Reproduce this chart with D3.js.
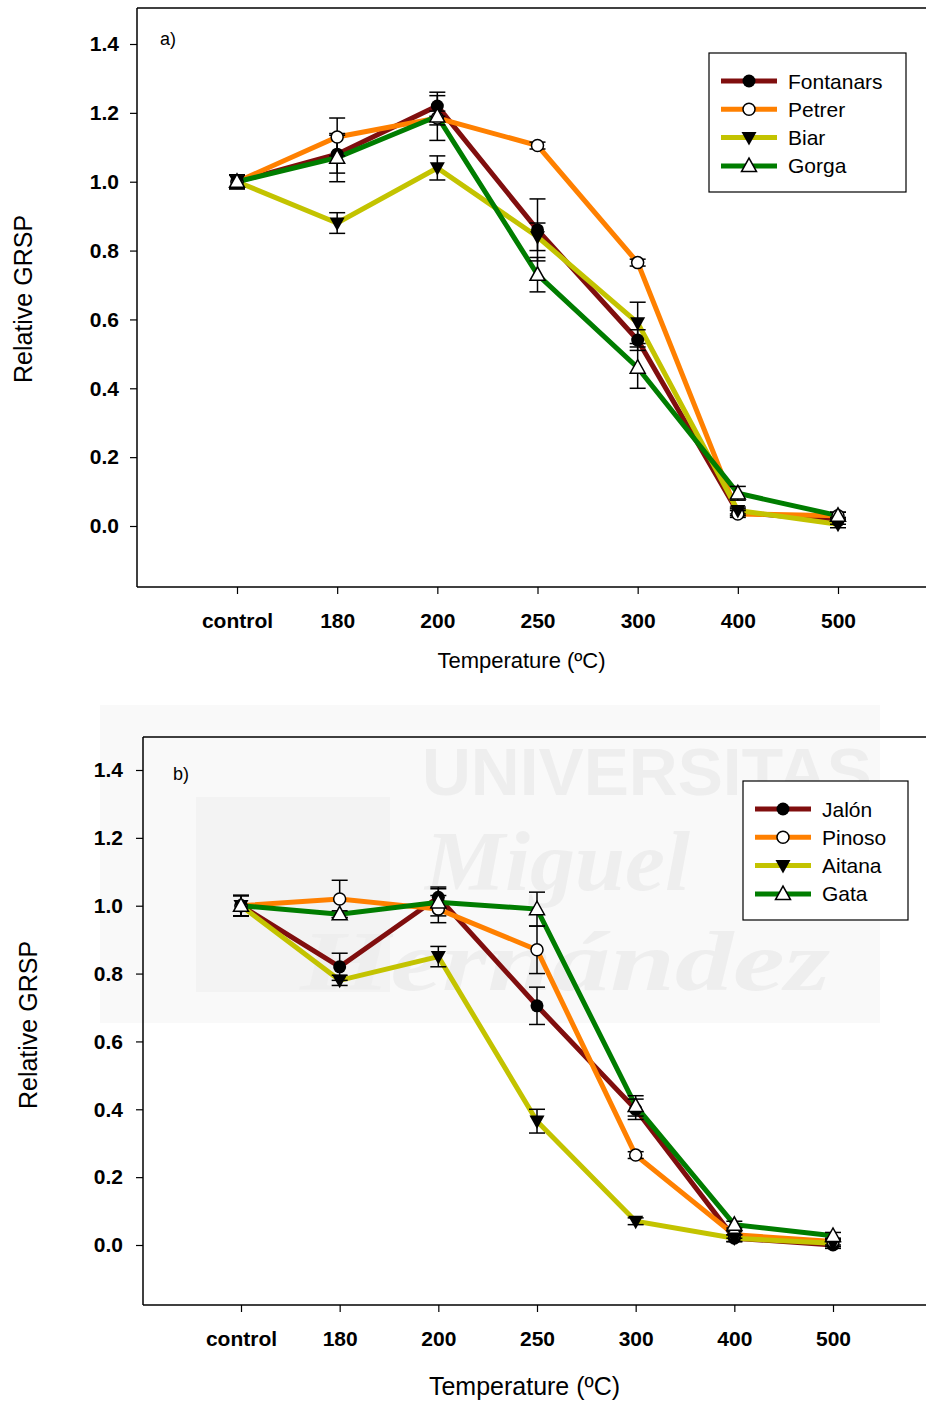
<!DOCTYPE html>
<html>
<head>
<meta charset="utf-8">
<script src="https://cdn.jsdelivr.net/npm/d3@7"></script>
<style>
  html, body { margin: 0; padding: 0; background: #fff; }
  svg { display: block; font-family: "Liberation Sans", Arial, sans-serif; }
</style>
</head>
<body>
<svg id="chart" width="926" height="1403"></svg>
<script>
// ---------- DATA ----------
const categories = ["control", "180", "200", "250", "300", "400", "500"];
const yTicks = [0, 0.2, 0.4, 0.6, 0.8, 1.0, 1.2, 1.4];

// Panel a
const namesA = ["Fontanars", "Petrer", "Biar", "Gorga"];
const fontanarsA = [1.00, 1.08, 1.22, 0.86, 0.54, 0.04, 0.015];
const fontanarsErrA = [0.02, 0.055, 0.03, 0.09, 0.03, 0.01, 0.01];
const petrerA = [1.00, 1.13, 1.185, 1.105, 0.765, 0.035, 0.03];
const petrerErrA = [0.02, 0.055, 0.02, 0.01, 0.01, 0.01, 0.01];
const biarA = [1.00, 0.88, 1.04, 0.84, 0.59, 0.045, 0.005];
const biarErrA = [0.02, 0.03, 0.035, 0.04, 0.06, 0.01, 0.01];
const gorgaA = [1.00, 1.07, 1.19, 0.73, 0.46, 0.095, 0.03];
const gorgaErrA = [0.02, 0.07, 0.07, 0.05, 0.06, 0.02, 0.01];

// Panel b
const namesB = ["Jalón", "Pinoso", "Aitana", "Gata"];
const jalonB = [1.00, 0.82, 1.025, 0.705, 0.40, 0.02, 0.0];
const jalonErrB = [0.03, 0.04, 0.03, 0.055, 0.03, 0.01, 0.01];
const pinosoB = [1.00, 1.02, 0.99, 0.87, 0.265, 0.03, 0.01];
const pinosoErrB = [0.03, 0.055, 0.04, 0.07, 0.01, 0.01, 0.01];
const aitanaB = [1.00, 0.78, 0.85, 0.365, 0.07, 0.02, 0.005];
const aitanaErrB = [0.03, 0.015, 0.03, 0.035, 0.01, 0.01, 0.01];
const gataB = [1.00, 0.975, 1.01, 0.99, 0.41, 0.06, 0.027];
const gataErrB = [0.03, 0.01, 0.04, 0.05, 0.03, 0.01, 0.01];

const colors = ["#800e0e", "#ff8000", "#c3c300", "#007d00"];
const markerTypes = ["circleFilled", "circleOpen", "triDown", "triUp"];

// ---------- DRAWING ----------
const svg = d3.select("#chart");

// faint watermark (behind panel b)
const wm = svg.append("g").attr("class", "watermark");
wm.append("rect").attr("x", 100).attr("y", 705).attr("width", 780).attr("height", 318)
  .attr("fill", "#f9f9f9");
wm.append("rect").attr("x", 196).attr("y", 797).attr("width", 194).attr("height", 195)
  .attr("fill", "#f3f3f3");
wm.append("text").attr("x", 422).attr("y", 795).attr("font-size", 66).attr("font-weight", "bold")
  .attr("textLength", 450).attr("lengthAdjust", "spacingAndGlyphs")
  .attr("fill", "#eeeeee").text("UNIVERSITAS");
wm.append("text").attr("x", 425).attr("y", 890).attr("font-size", 84).attr("font-style", "italic")
  .attr("font-weight", "bold")
  .attr("font-family", "Liberation Serif, serif").attr("textLength", 265).attr("lengthAdjust", "spacingAndGlyphs")
  .attr("fill", "#eeeeee").text("Miguel");
wm.append("text").attr("x", 300).attr("y", 990).attr("font-size", 84).attr("font-style", "italic")
  .attr("font-weight", "bold")
  .attr("font-family", "Liberation Serif, serif").attr("textLength", 530).attr("lengthAdjust", "spacingAndGlyphs")
  .attr("fill", "#eeeeee").text("Hernández");

function drawPanel(cfg) {
  const g = svg.append("g");
  const x = d3.scalePoint().domain(categories).range([cfg.x0, cfg.x1]);
  const y = d3.scaleLinear().domain([0, 1.4]).range([cfg.y0, cfg.y14]);

  // frame
  g.append("line").attr("x1", cfg.left).attr("x2", 926).attr("y1", cfg.top).attr("y2", cfg.top)
    .attr("stroke", "#000").attr("stroke-width", 1.5);
  g.append("line").attr("x1", cfg.left).attr("x2", 926).attr("y1", cfg.bottom).attr("y2", cfg.bottom)
    .attr("stroke", "#000").attr("stroke-width", 1.5);
  g.append("line").attr("x1", cfg.left).attr("x2", cfg.left).attr("y1", cfg.top).attr("y2", cfg.bottom)
    .attr("stroke", "#000").attr("stroke-width", 1.5);

  // y axis
  const ya = g.append("g").attr("transform", `translate(${cfg.left},0)`)
    .call(d3.axisLeft(y).tickValues(yTicks).tickFormat(d3.format(".1f")).tickSize(7).tickPadding(cfg.yPad));
  ya.select(".domain").remove();
  ya.selectAll("line").attr("stroke-width", 1.2);
  ya.selectAll("text").attr("font-size", 21).attr("font-weight", "bold")
    .attr("font-family", "Liberation Sans, Arial, sans-serif").attr("fill", "#000");

  // x axis
  const xa = g.append("g").attr("transform", `translate(0,${cfg.bottom})`)
    .call(d3.axisBottom(x).tickSize(7).tickPadding(19));
  xa.select(".domain").remove();
  xa.selectAll("line").attr("stroke-width", 1.2);
  xa.selectAll("text").attr("font-size", 21).attr("font-weight", "bold")
    .attr("font-family", "Liberation Sans, Arial, sans-serif").attr("fill", "#000");

  // axis titles
  g.append("text").attr("x", (cfg.left + 926) / 2 - 10).attr("y", cfg.xTitleY)
    .attr("text-anchor", "middle").attr("font-size", cfg.xTitleSize).text("Temperature (ºC)");
  g.append("text").attr("transform", `translate(${cfg.yTitleX},${cfg.yTitleY}) rotate(-90)`)
    .attr("text-anchor", "middle").attr("font-size", 25).text("Relative GRSP");
  g.append("text").attr("x", cfg.tagX).attr("y", cfg.tagY).attr("font-size", 18).text(cfg.tag);

  const series = cfg.values.map((v, i) => ({ name: cfg.names[i], vals: v, errs: cfg.errs[i], color: colors[i], marker: markerTypes[i] }));

  const line = d3.line().x((d, i) => x(categories[i])).y(d => y(d));
  series.forEach(s => {
    g.append("path").attr("d", line(s.vals)).attr("fill", "none")
      .attr("stroke", s.color).attr("stroke-width", 5).attr("stroke-linejoin", "miter");
  });

  // error bars
  series.forEach(s => {
    s.vals.forEach((v, i) => {
      const cx = x(categories[i]);
      const e = s.errs[i];
      const eg = g.append("g").attr("stroke", "#000").attr("stroke-width", 1.5);
      eg.append("line").attr("x1", cx).attr("x2", cx).attr("y1", y(v - e)).attr("y2", y(v + e));
      eg.append("line").attr("x1", cx - 8).attr("x2", cx + 8).attr("y1", y(v + e)).attr("y2", y(v + e));
      eg.append("line").attr("x1", cx - 8).attr("x2", cx + 8).attr("y1", y(v - e)).attr("y2", y(v - e));
    });
  });

  // markers
  series.forEach(s => {
    s.vals.forEach((v, i) => drawMarker(g, s.marker, x(categories[i]), y(v), 1));
  });

  // legend
  const lg = g.append("g");
  lg.append("rect").attr("x", cfg.legX).attr("y", cfg.legY).attr("width", cfg.legW).attr("height", 139)
    .attr("fill", "#fff").attr("stroke", "#000").attr("stroke-width", 1.2);
  series.forEach((s, i) => {
    const ly = cfg.legY + 28 + i * 28.3;
    const lx = cfg.legX + 12;
    lg.append("line").attr("x1", lx).attr("x2", lx + 56).attr("y1", ly).attr("y2", ly)
      .attr("stroke", s.color).attr("stroke-width", 5);
    drawMarker(lg, s.marker, lx + 28, ly, 1);
    lg.append("text").attr("x", lx + 67).attr("y", ly + 7.5).attr("font-size", 21).text(s.name);
  });
}

function drawMarker(g, type, cx, cy, k) {
  const r = 6.5 * k;
  if (type === "circleFilled") {
    g.append("circle").attr("cx", cx).attr("cy", cy).attr("r", r).attr("fill", "#000");
  } else if (type === "circleOpen") {
    g.append("circle").attr("cx", cx).attr("cy", cy).attr("r", r - 0.5).attr("fill", "#fff")
      .attr("stroke", "#000").attr("stroke-width", 1.5);
  } else if (type === "triDown") {
    const h = 7.5 * k;
    g.append("path").attr("d", `M${cx - h},${cy - h * 0.75} L${cx + h},${cy - h * 0.75} L${cx},${cy + h * 1.05} Z`)
      .attr("fill", "#000");
  } else {
    const h = 7.5 * k;
    g.append("path").attr("d", `M${cx - h},${cy + h * 0.75} L${cx + h},${cy + h * 0.75} L${cx},${cy - h * 1.05} Z`)
      .attr("fill", "#fff").attr("stroke", "#000").attr("stroke-width", 1.5);
  }
}

drawPanel({
  tag: "a)", tagX: 160, tagY: 45,
  left: 137, top: 8, bottom: 587,
  x0: 237, x1: 838, y0: 526, y14: 44, yPad: 11,
  xTitleY: 668, xTitleSize: 22, yTitleX: 32, yTitleY: 299,
  names: namesA,
  values: [fontanarsA, petrerA, biarA, gorgaA],
  errs: [fontanarsErrA, petrerErrA, biarErrA, gorgaErrA],
  legX: 709, legY: 53, legW: 197
});

drawPanel({
  tag: "b)", tagX: 173, tagY: 780,
  left: 143, top: 737, bottom: 1305,
  x0: 241, x1: 833, y0: 1245, y14: 770, yPad: 13,
  xTitleY: 1395, xTitleSize: 25, yTitleX: 37, yTitleY: 1025,
  names: namesB,
  values: [jalonB, pinosoB, aitanaB, gataB],
  errs: [jalonErrB, pinosoErrB, aitanaErrB, gataErrB],
  legX: 743, legY: 781, legW: 165
});
</script>
</body>
</html>
